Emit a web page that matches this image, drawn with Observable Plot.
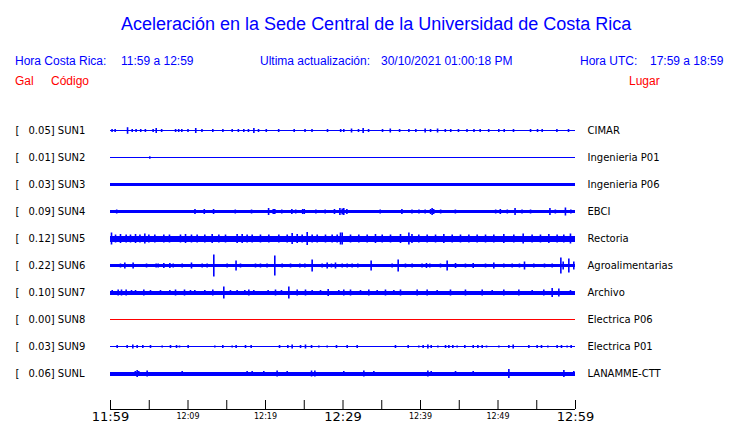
<!DOCTYPE html>
<html>
<head>
<meta charset="utf-8">
<script src="https://cdn.jsdelivr.net/npm/d3@7"></script>
<script src="https://cdn.jsdelivr.net/npm/@observablehq/plot@0.6"></script>
<style>
  body { margin: 0; background: #fff; }
  #page { position: relative; width: 740px; height: 423px; overflow: hidden; background: #fff; }
  .h { position: absolute; white-space: pre; font-family: "Liberation Sans", Arial, sans-serif; line-height: 1; }
  .blue { color: #0000ff; }
  .red { color: #ff0000; }
  #chart { position: absolute; left: 0; top: 100px; }
</style>
</head>
<body>
<div id="page">
  <div class="h blue" style="left:121px; top:15px; font-size:18px;">Aceleración en la Sede Central de la Universidad de Costa Rica</div>
  <div class="h blue" style="left:15px; top:55px; font-size:12px;">Hora Costa Rica:</div>
  <div class="h blue" style="left:121px; top:55px; font-size:12px;">11:59 a 12:59</div>
  <div class="h blue" style="left:260px; top:55px; font-size:12px;">Ultima actualización:</div>
  <div class="h blue" style="left:381px; top:55px; font-size:12px;">30/10/2021 01:00:18 PM</div>
  <div class="h blue" style="left:580px; top:55px; font-size:12px;">Hora UTC:</div>
  <div class="h blue" style="left:650px; top:55px; font-size:12px;">17:59 a 18:59</div>
  <div class="h red" style="left:15px; top:75px; font-size:12px;">Gal</div>
  <div class="h red" style="left:51px; top:75px; font-size:12px;">Código</div>
  <div class="h red" style="left:629px; top:75px; font-size:12px;">Lugar</div>
  <div id="chart"></div>
</div>
<script>
// ---------------- data ----------------
const stations = ["SUN1","SUN2","SUN3","SUN4","SUN5","SUN6","SUN7","SUN8","SUN9","SUNL"];
const galValues = [0.05, 0.01, 0.03, 0.09, 0.12, 0.22, 0.10, 0.00, 0.03, 0.06];
const places = ["CIMAR","Ingenieria P01","Ingenieria P06","EBCI","Rectoria","Agroalimentarias","Archivo","Electrica P06","Electrica P01","LANAMME-CTT"];
// background noise level per trace (half-width, in 1/27 of the trace spacing)
const noiseLevel = [0.5, 0.5, 1.5, 1.5, 3, 1.5, 2, 0.5, 0.5, 2];
// time window (Costa Rica time)
const startTime = "2021-10-30T11:59";
const endTime = "2021-10-30T12:59";
const majorTickLabels = ["11:59","12:29","12:59"];
const minorTickLabels = ["12:09","12:19","12:39","12:49"];
const allTickMinutes = [0,5,10,15,20,25,30,35,40,45,50,55,60];
// peaks per trace: [minutes after 11:59, half-amplitude in 1/27 of trace spacing]
const peaksSUN1 = [[0.2,1.5],[0.6,1.5],[2.2,3.3],[2.8,1.5],[3.3,1.5],[3.9,1.5],[4.5,1.5],[5.5,1.5],[5.9,2.5],[6.6,1.5],[8.4,1.5],[8.8,1.5],[9.2,1.5],[10.0,1.5],[11.0,2.5],[11.8,1.5],[13.2,1.5],[14.5,1.5],[15.7,1.5],[16.5,1.5],[17.2,1.5],[17.8,1.5],[18.5,2.5],[19.1,1.5],[20.1,1.5],[21.7,1.5],[23.7,1.5],[25.1,1.5],[26.0,1.5],[28.0,1.5],[29.7,1.5],[30.1,1.5],[31.1,2],[32.0,1.5],[32.6,2.5],[33.3,1.5],[35.1,1.5],[36.1,2],[37.3,1.5],[38.5,1.5],[39.4,1.5],[40.6,2],[41.3,1.5],[42.2,2],[43.2,1.5],[43.9,1.5],[44.9,1.5],[46.0,1.5],[46.9,1.5],[47.7,1.5],[48.8,1.5],[50.1,1.5],[50.8,1.5],[52.0,1.5],[54.2,1.5],[55.1,1.5],[55.7,1.5],[57.6,1.5],[59.1,1.5]];
const peaksSUN2 = [[5.07,1.2]];
const peaksSUN3 = [];
const peaksSUN4 = [[0.8,2],[10.9,2.5],[12.1,2.5],[13.3,2.5],[16.1,2],[18.2,2],[20.4,3.5],[21.0,2.5],[21.2,2.5],[22.1,2],[23.4,2.5],[23.9,2],[24.8,2.5],[25.0,2.5],[26.5,2],[27.7,2],[28.9,2.5],[29.6,3.5],[29.9,3],[30.1,3.5],[30.5,2.5],[34.8,2],[37.6,2.5],[38.9,2],[39.8,2],[40.6,2],[41.3,2.5],[41.5,3.5],[41.7,2.5],[42.6,2],[44.5,2],[49.7,2],[50.3,2.5],[51.2,2],[52.2,3.5],[53.1,2],[54.2,2],[56.7,3.5],[57.4,2],[58.7,4],[59.4,2]];
const peaksSUN5 = [[0.13,6],[0.65,4],[1.29,4.5],[2.02,4],[2.58,4],[3.23,4.5],[3.8,4],[4.43,5],[4.95,4],[5.72,4],[6.88,4],[7.61,4],[9.03,4],[9.68,4.5],[10.45,4],[11.18,4],[12.17,4],[13.12,4.5],[13.98,4],[14.84,4],[16.34,4.5],[16.99,4.5],[17.63,4],[18.28,4],[19.35,4],[20.43,4],[21.72,4],[22.8,4],[23.44,5.5],[24.09,4.5],[24.73,4],[25.38,6.5],[26.02,4],[26.67,4],[27.74,4],[28.6,4],[29.25,4],[29.68,6],[29.9,6],[30.97,4],[32.04,4],[33.12,4],[34.19,4.5],[35.06,4],[36.13,4],[37.42,4.5],[38.5,6],[38.9,4.5],[39.78,4],[40.86,4],[41.94,4],[43.01,4.5],[44.09,4],[45.16,4],[46.24,4],[47.31,4],[48.39,4],[49.46,4],[50.75,4.5],[52.04,4],[53.25,5],[54.4,4],[55.48,4],[56.56,4.5],[57.63,4],[58.49,4],[59.35,5]];
const peaksSUN6 = [[1.29,2],[1.85,3],[2.92,3],[4.65,2],[5.89,2],[6.15,2],[6.88,2.5],[7.66,2.5],[8.09,2],[9.25,2],[10.45,3],[11.83,2],[12.47,2],[13.33,11],[15.05,2],[16.2,5],[16.77,2],[18.71,2],[19.35,2],[20.2,2],[21.2,10],[22.15,2],[23.23,2],[24.43,2],[25.08,2],[26.02,6],[27.31,2],[27.96,3],[28.51,2],[29.03,3],[29.9,2],[30.54,2],[31.18,2],[31.91,2],[33.63,5],[36.34,2],[37.12,6],[38.06,2],[38.92,2],[40.2,2],[40.77,2.5],[41.2,2],[42.58,2],[43.44,5],[44.52,2.5],[45.8,2],[46.8,2.5],[48.39,2],[49.46,3],[50.75,2],[51.83,2],[52.77,2],[53.42,4],[54.62,2],[56.0,2],[56.99,2],[58.11,8],[58.41,4],[59.14,7],[59.78,4]];
const peaksSUN7 = [[0.22,2.5],[0.99,3],[1.42,3],[2.02,3],[2.71,2.5],[3.23,2.5],[4.3,3],[5.16,2.5],[6.45,2.5],[7.66,2.5],[8.39,3],[9.55,3],[10.32,2.5],[10.88,2.5],[12.17,2.5],[13.2,3],[14.62,6],[15.48,2.5],[16.34,2.5],[17.33,2.5],[17.85,3],[18.49,2.5],[20.34,2.5],[21.29,3],[22.06,2.5],[23.01,6],[24.09,3],[25.16,3],[26.02,2.5],[27.1,2.5],[28.09,3.5],[29.46,2.5],[30.1,3],[30.97,3],[32.26,2.5],[33.33,3],[34.41,2.5],[35.48,3],[36.56,2.5],[37.42,3],[39.57,3],[40.86,3],[42.15,2.5],[43.87,3],[45.8,3],[47.96,3],[49.25,2.5],[50.75,3],[52.69,3],[54.41,2.5],[55.91,3],[56.99,4.5],[57.85,4],[59.35,2.5]];
const peaksSUN8 = [];
const peaksSUN9 = [[0.86,1.5],[2.15,1.5],[2.88,2],[3.44,1.5],[4.17,1.5],[5.16,1.5],[6.67,1],[7.74,1.5],[8.52,1.5],[8.9,1],[10.02,1.5],[13.46,1],[14.49,1.5],[15.7,1],[16.21,1.5],[17.42,1.5],[18.15,1.5],[21.81,1.5],[22.88,1.5],[23.44,2],[24.52,1.5],[25.16,2],[25.94,1.5],[26.88,1],[27.96,1],[29.16,1.5],[30.54,1.5],[31.83,1.5],[36.77,1.5],[38.41,1.5],[39.78,1],[40.34,1.5],[40.95,2],[41.38,1.5],[42.24,1],[43.23,1.5],[43.66,1.5],[44.17,1.5],[44.73,1],[45.72,1.5],[46.8,1.5],[47.4,1.5],[47.96,1.5],[48.52,1],[50.11,1],[51.4,1.5],[51.96,2],[53.98,1.5],[55.05,1.5],[55.61,1.5],[56.43,1],[57.63,1.5],[58.19,1.5],[58.92,1],[59.44,1.5]];
const peaksSUNL = [[3.2,2.5],[3.44,3.5],[3.65,2.5],[4.73,3],[9.25,2.5],[17.63,2.5],[18.28,2.5],[19.78,2.5],[21.5,3],[22.8,2.5],[25.94,3],[26.37,3],[30.1,2.5],[32.69,3],[33.98,2.5],[40.95,3],[41.38,2.5],[44.52,2.5],[46.8,2.5],[51.4,4.5],[58.5,3.5],[59.78,2.5]];
const peaksByStation = [peaksSUN1, peaksSUN2, peaksSUN3, peaksSUN4, peaksSUN5, peaksSUN6, peaksSUN7, peaksSUN8, peaksSUN9, peaksSUNL];

// ---------------- build ----------------
const parse = d3.utcParse("%Y-%m-%dT%H:%M");
const t0 = parse(startTime), t1 = parse(endTime);
const at = m => new Date(+t0 + m * 60000);
const parseHM = s => parse("2021-10-30T" + s);
const AMP = 1 / 27;            // amplitude unit as a fraction of trace spacing
const yTop = -30.5 / 27;       // frame top (trace units)
const yAxis = 9 + 35.5 / 27;   // time-axis position (trace units)
const blue = "#0000ff", red = "#ff0000";

const rows = stations.map((s, i) => ({
  code: s, row: i, gal: galValues[i], place: places[i], noise: noiseLevel[i],
  color: galValues[i] === 0 ? red : blue
}));
const peaks = rows.flatMap(r => peaksByStation[r.row].map(([m, a]) => ({
  t: at(m), row: r.row, amp: a, color: r.color
})));
const tickDates = allTickMinutes.map(at);
const majorTicks = majorTickLabels.map(parseHM);
const minorTicks = minorTickLabels.map(parseHM);
const fmt = d3.utcFormat("%H:%M");
const font = "DejaVu Sans, Verdana, sans-serif";

const chart = Plot.plot({
  width: 740,
  height: 323,
  marginLeft: 110,
  marginRight: 165,
  marginTop: 0,
  marginBottom: 14,
  x: { type: "utc", domain: [t0, t1], axis: null },
  y: { domain: [yTop, yAxis], reverse: true, axis: null },
  style: { background: "transparent", overflow: "visible" },
  marks: [
    // background noise band of each trace
    Plot.rect(rows, {
      x1: () => t0, x2: () => t1,
      y1: d => d.row - d.noise * AMP, y2: d => d.row + d.noise * AMP,
      fill: d => d.color, shapeRendering: "crispEdges"
    }),
    // individual peaks
    Plot.ruleX(peaks, {
      x: "t", y1: d => d.row - d.amp * AMP, y2: d => d.row + d.amp * AMP,
      stroke: d => d.color, strokeWidth: 1.6
    }),
    // left labels
    Plot.text(rows, { frameAnchor: "left", y: "row", text: () => "[", dx: -95, textAnchor: "start", fontSize: 10, fontFamily: font, fill: "#000" }),
    Plot.text(rows, { frameAnchor: "left", y: "row", text: d => `${d.gal.toFixed(2)}] ${d.code}`, dx: -82, textAnchor: "start", fontSize: 10, fontFamily: font, fill: "#000" }),
    // right labels
    Plot.text(rows, { frameAnchor: "right", y: "row", text: "place", dx: 12, textAnchor: "start", fontSize: 10, fontFamily: font, fill: "#000" }),
    // time axis
    Plot.ruleY([yAxis], { stroke: "#000" }),
    Plot.ruleX(tickDates, { x: d => d, y1: () => yAxis, y2: () => yAxis - 9 / 27, stroke: "#000" }),
    Plot.text(majorTicks, { x: d => d, frameAnchor: "bottom", lineAnchor: "middle", dy: 7, text: d => fmt(d), fontSize: 13, fontFamily: font, fill: "#000" }),
    Plot.text(minorTicks, { x: d => d, frameAnchor: "bottom", lineAnchor: "middle", dy: 7, text: d => fmt(d), fontSize: 8, fontFamily: font, fill: "#000" })
  ]
});
document.getElementById("chart").appendChild(chart);
</script>
</body>
</html>
